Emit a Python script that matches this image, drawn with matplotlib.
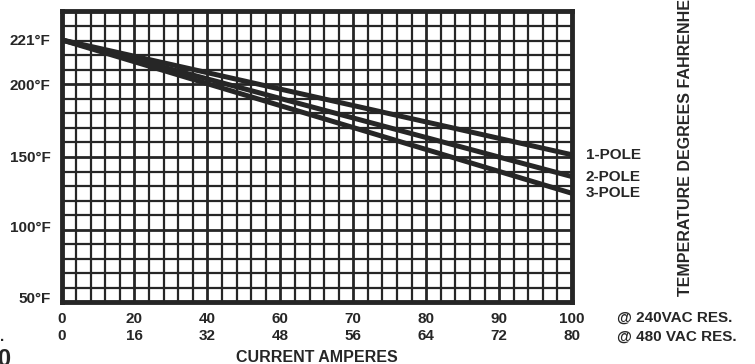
import numpy as np
import matplotlib.pyplot as plt

plt.rcParams['font.family'] = ['Liberation Sans', 'DejaVu Sans']
plt.rcParams['font.weight'] = 'bold'

# current scales (two voltage ratings share one axis)
amps_240 = [0, 20, 40, 60, 70, 80, 90, 100]
amps_480 = [0, 16, 32, 48, 56, 64, 72, 80]

# temperature labels as printed on the chart
temp_labels = ['50°F', '100°F', '150°F', '200°F', '221°F']
temp_label_at = [53.5, 102.5, 150, 200, 230.5]

# derating lines (current A @240VAC, temperature)
current = [0, 100]
poles = ['1-POLE', '2-POLE', '3-POLE']
pole_temps = [[230.5, 151.5],
              [230.5, 136.5],
              [230.5, 125.0]]

ink = '#262626'

fig = plt.figure(figsize=(7.55, 3.64), dpi=100)
ax = fig.add_axes([0.0815, 0.169, 0.6762, 0.7995])

xpos = np.arange(len(amps_240))
def to_pos(a):
    return np.interp(a, amps_240, xpos)

# grid
for x in np.arange(0.2, 7.0, 0.2):
    major = abs(x - round(x)) < 1e-6
    ax.axvline(x, color=ink, lw=2.0 if major else 1.6, zorder=1)
for y in range(60, 250, 10):
    ax.axhline(y, color=ink, lw=2.0 if y % 50 == 0 else 1.6, zorder=1)

for name, temps in zip(poles, pole_temps):
    ax.plot(to_pos(current), temps, color=ink, lw=3.6, solid_capstyle='butt', zorder=3)
    ax.text(7.19, temps[-1], name, fontsize=11, fontweight='bold', color=ink,
            va='center', ha='left', clip_on=False)

ax.set_xlim(0, 7)
ax.set_ylim(50, 250)

ax.set_xticks(xpos)
ax.set_xticklabels([f'{a}\n{b}' for a, b in zip(amps_240, amps_480)],
                   fontsize=11, fontweight='bold', color=ink, linespacing=1.25)
ax.set_yticks(temp_label_at)
ax.set_yticklabels(temp_labels, fontsize=11, fontweight='bold', color=ink)
ax.tick_params(length=0, pad=7)
ax.tick_params(axis='y', pad=8)

for s in ax.spines.values():
    s.set_linewidth(3.5)
    s.set_color(ink)
    s.set_zorder(4)

W, H = 755, 364
def ft(x, y, s, **kw):
    fig.text(x / W, 1 - y / H, s, color=ink, fontweight='bold', **kw)

ft(317, 357, 'CURRENT AMPERES', fontsize=11.5, ha='center', va='center')
ft(617, 318, '@ 240VAC RES.', fontsize=11, ha='left', va='center')
ft(617, 337, '@ 480 VAC RES.', fontsize=11, ha='left', va='center')
ft(686, 296, 'TEMPERATURE DEGREES FAHRENHEIT', fontsize=11.5, rotation=90,
   ha='center', va='bottom')
ft(0, 337, '.', fontsize=11, ha='left', va='center')
ft(-3, 360, '0', fontsize=17, ha='left', va='center')

fig.savefig('out.png', dpi=100)
